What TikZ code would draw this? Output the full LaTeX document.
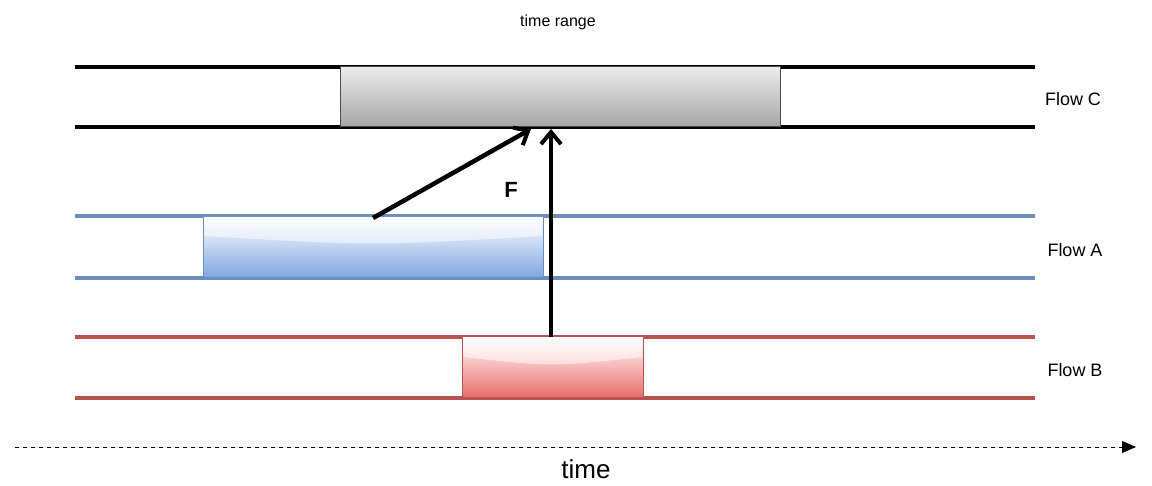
\documentclass[tikz,border=0pt]{standalone}
\usepackage{fontspec}
\setmainfont{Liberation Sans}
\usetikzlibrary{arrows.meta}
\definecolor{blueline}{HTML}{6C8EBF}
\definecolor{redline}{HTML}{B85450}
\definecolor{bluefill}{HTML}{7EA6E0}
\definecolor{redfill}{HTML}{EA6B66}
\begin{document}
\begin{tikzpicture}[x=1pt,y=-1pt,
  lane/.style={line width=4pt},
  lbl/.style={font=\fontsize{18}{20}\selectfont},
  big/.style={-{Straight Barb[length=12pt,width=20pt,line width=4pt]},line width=4.5pt}]
\useasboundingbox (0,0) rectangle (1152,486);
\node[font=\fontsize{16}{18}\selectfont] (tr) at (558,22) {time range};
% Flow C
\draw[lane] (75,67) -- (1035,67);
\draw[lane] (75,127) -- (1035,127);
\node[draw=black!70,line width=1pt,top color=black!8,bottom color=black!35,minimum width=440pt,minimum height=60pt,inner sep=0pt] (c) at (560,97) {};
\node[lbl] (fc) at (1073,99) {Flow C};
% Flow A
\draw[lane,blueline] (75,216) -- (1035,216);
\draw[lane,blueline] (75,278) -- (1035,278);
\node[draw=blueline,line width=1pt,top color=white,bottom color=bluefill,minimum width=340pt,minimum height=61pt,inner sep=0pt] (a) at (373,247) {};
\fill[white,opacity=0.5] (204,217) -- (542,217) -- (542,236) .. controls (373,246) .. (204,236) -- cycle;
\node[lbl] (fa) at (1075,250) {Flow A};
% Flow B
\draw[lane,redline] (75,337) -- (1035,337);
\draw[lane,redline] (75,398) -- (1035,398);
\node[draw=redline,line width=1pt,top color=white,bottom color=redfill,minimum width=181pt,minimum height=61pt,inner sep=0pt] (b) at (552.5,367.5) {};
\fill[white,opacity=0.5] (463,338) -- (642,338) -- (642,357) .. controls (552,367) .. (463,357) -- cycle;
\node[lbl] (fb) at (1075,370) {Flow B};
% arrows
\coordinate (as) at (373,218);
\coordinate (ae) at (531,129);
\draw[big] (as) -- (ae);
\coordinate (bs) at (551,337);
\coordinate (be) at (551,129);
\draw[big] (bs) -- (be);
\node[font=\bfseries\fontsize{22}{24}\selectfont] (f) at (511,190) {F};
% time axis
\coordinate (t0) at (15,447);
\coordinate (t1) at (1136,447);
\draw[dashed,line width=1pt,dash pattern=on 4pt off 4pt,-{Triangle[length=14pt,width=12pt]}] (t0) -- (t1);
\node[font=\fontsize{26}{28}\selectfont] (time) at (586,469) {time};
\end{tikzpicture}
\end{document}
